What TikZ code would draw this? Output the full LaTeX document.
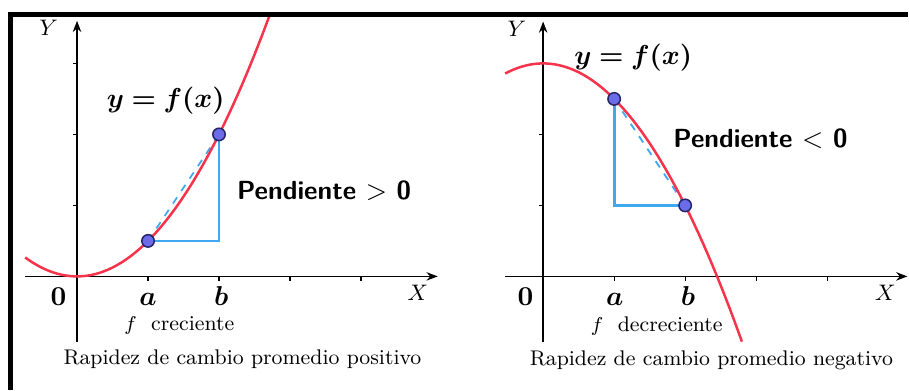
\documentclass[tikz,border=0pt]{standalone}
\usepackage{amsmath,amssymb,bm}
\usepackage{tikz}
\usetikzlibrary{arrows.meta}
\definecolor{curva}{HTML}{F5344C}
\definecolor{cateto}{HTML}{3FA8F0}
\definecolor{punto}{HTML}{6C6CE8}
\definecolor{bordepto}{HTML}{25256A}
\tikzset{
  eje/.style={line width=0.6pt, -{Stealth[length=4.5pt,width=3.4pt]}},
  marca/.style={line width=0.5pt},
  graf/.style={curva, line width=1pt, smooth, samples=60},
  tri/.style={cateto, line width=1.1pt},
  secante/.style={cateto, dashed, line width=0.7pt},
  pto/.style={circle, draw=bordepto, fill=punto, line width=0.6pt, minimum size=1.75mm, inner sep=0pt},
  etq/.style={anchor=base, inner sep=0pt, font=\fontsize{10.5}{12}\selectfont},
  ejetq/.style={anchor=base, inner sep=0pt, font=\fontsize{9.5}{11}\selectfont},
  leyenda/.style={anchor=base, inner sep=0pt, font=\fontsize{8.5}{10}\selectfont},
  pend/.style={anchor=base, inner sep=0pt, font=\fontsize{10.5}{12}\selectfont\sffamily\bfseries},
  marco/.style={line width=1.8pt}
}

\begin{document}
\begin{tikzpicture}
\useasboundingbox (0,0) rectangle (12.803,5.493);

% f creciente
\begin{scope}[shift={(1.085,1.6)}]
  \coordinate (lx0) at (-0.73,0); \coordinate (lx1) at (5.08,0);
  \coordinate (ly0) at (0,-0.93); \coordinate (ly1) at (0,3.6);
  \draw[eje] (lx0) -- (lx1);
  \draw[eje] (ly0) -- (ly1);
  \foreach \t in {1,...,4} \draw[marca] (\t,0) -- (\t,-0.06);
  \foreach \t in {1,2,3} \draw[marca] (0,\t) -- (-0.06,\t);
  \coordinate (la) at (1,0.5); \coordinate (lb) at (2,2); \coordinate (lc) at (2,0.5);
  \draw[tri] (la) -- (lc) -- (lb);
  \draw[secante] (la) -- (lb);
  \draw[graf] plot[domain=-0.73:2.717] (\x,{0.5*\x*\x});
  \node[pto] (pla) at (la) {};
  \node[pto] (plb) at (lb) {};
  \node[etq] (lfx) at (1.25,2.38) {$\bm{y=f(x)}$};
  \node[pend] (lpend) at (3.48,1.08) {Pendiente $>$ 0};
  \node[etq] (l0) at (-0.26,-0.41) {$\mathbf{0}$};
  \node[etq] (lat) at (1,-0.41) {$\bm{a}$};
  \node[etq] (lbt) at (2.03,-0.41) {$\bm{b}$};
  \node[ejetq] (lX) at (4.8,-0.34) {$X$};
  \node[ejetq] (lY) at (-0.4,3.39) {$Y$};
  \node[leyenda] (lf) at (1.44,-0.76) {$f$\ \ creciente};
  \node[leyenda] (lrap) at (2.33,-1.24) {Rapidez de cambio promedio positivo};
\end{scope}

% f decreciente
\begin{scope}[shift={(7.65,1.6)}]
  \coordinate (rx0) at (-0.535,0); \coordinate (rx1) at (5.13,0);
  \coordinate (ry0) at (0,-0.92); \coordinate (ry1) at (0,3.59);
  \draw[eje] (rx0) -- (rx1);
  \draw[eje] (ry0) -- (ry1);
  \foreach \t in {1,...,4} \draw[marca] (\t,0) -- (\t,-0.06);
  \foreach \t in {1,2,3} \draw[marca] (0,\t) -- (-0.06,\t);
  \coordinate (ra) at (1,2.5); \coordinate (rb) at (2,1); \coordinate (rc) at (1,1);
  \draw[tri] (ra) -- (rc) -- (rb);
  \draw[secante] (ra) -- (rb);
  \draw[graf] plot[domain=-0.535:2.80] (\x,{3-0.5*\x*\x});
  \node[pto] (pra) at (ra) {};
  \node[pto] (prb) at (rb) {};
  \node[etq] (rfx) at (1.27,2.99) {$\bm{y=f(x)}$};
  \node[pend] (rpend) at (3.06,1.82) {Pendiente $<$ 0};
  \node[etq] (r0) at (-0.25,-0.41) {$\mathbf{0}$};
  \node[etq] (rat) at (1.01,-0.41) {$\bm{a}$};
  \node[etq] (rbt) at (2.04,-0.41) {$\bm{b}$};
  \node[ejetq] (rX) at (4.82,-0.34) {$X$};
  \node[ejetq] (rY) at (-0.37,3.38) {$Y$};
  \node[leyenda] (rf) at (1.6,-0.77) {$f$\ \ decreciente};
  \node[leyenda] (rrap) at (2.37,-1.25) {Rapidez de cambio promedio negativo};
\end{scope}

\coordinate (m0) at (0.148,0); \coordinate (m1) at (12.79,5.289);
\draw[marco] (m0) |- (m1);
\end{tikzpicture}
\end{document}
